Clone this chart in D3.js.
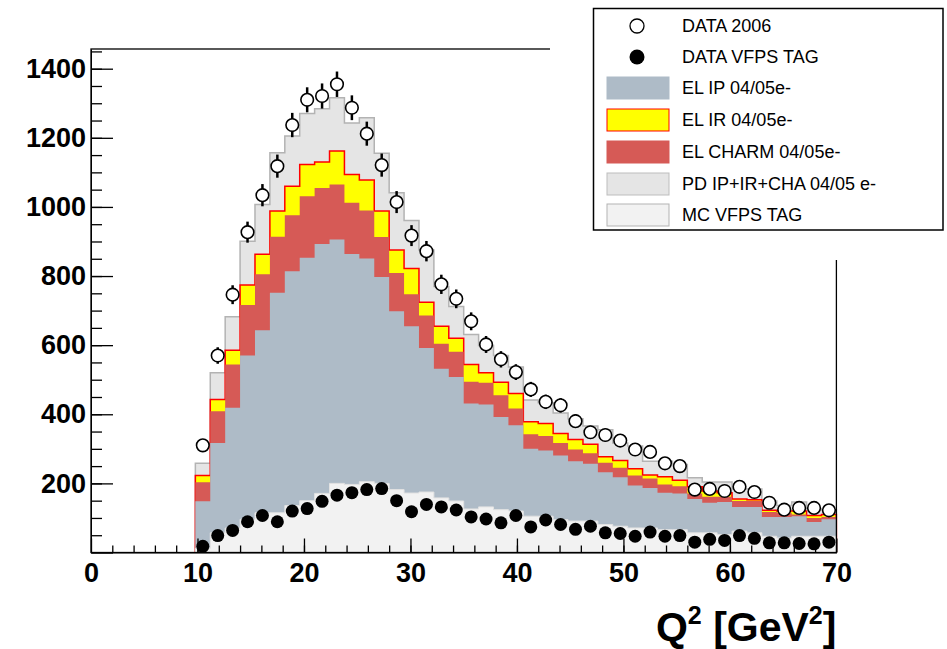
<!DOCTYPE html>
<html>
<head>
<meta charset="utf-8">
<script src="https://cdn.jsdelivr.net/npm/d3@7"></script>
<style>
  body { margin: 0; background: #fff; }
  text { font-family: "Liberation Sans", Arial, Helvetica, sans-serif; }
</style>
</head>
<body>
<svg id="chart" width="947" height="649"></svg>
<script>
// histogram binning: 50 bins over 0..70, filled from 9.8 upward
const binWidth = 1.4;
const firstBinLow = 9.8;

// cumulative stack tops per bin (events)
const pdTotal = [258, 520, 682, 901, 1007, 1157, 1205, 1270, 1284, 1316, 1243, 1258, 1155, 1041, 961,
  875, 770, 712, 631, 599, 570, 537, 441, 433, 404, 387, 366, 355, 317, 308, 264, 264, 255, 216,
  204, 204, 184, 184, 149, 136, 146, 126, 124];
const elIR = [223, 443, 585, 774, 863, 988, 1060, 1123, 1130, 1162, 1094, 1078, 988, 875, 822,
  724, 655, 620, 544, 520, 493, 460, 378, 373, 344, 327, 313, 277, 266, 242, 224, 219, 209, 190,
  178, 173, 155, 153, 122, 120, 120, 107, 110];
const elCharm = [203, 409, 544, 716, 805, 914, 976, 1031, 1055, 1065, 1012, 990, 913, 809, 747,
  686, 604, 581, 494, 491, 455, 417, 342, 337, 317, 298, 287, 260, 245, 223, 214, 197, 192, 171,
  161, 161, 149, 149, 117, 115, 110, 100, 103];
const elIP = [148, 317, 419, 570, 643, 752, 814, 853, 893, 906, 864, 851, 797, 698, 655,
  592, 532, 508, 431, 428, 392, 368, 300, 295, 281, 264, 257, 232, 218, 194, 187, 173, 171, 155,
  144, 146, 132, 132, 103, 103, 105, 88, 96];
const mcVfps = [12, 57, 71, 96, 115, 115, 136, 150, 171, 200, 197, 205, 200, 182, 172,
  175, 158, 149, 126, 132, 124, 120, 105, 105, 95, 91, 91, 81, 76, 71, 71, 66, 66, 57,
  57, 52, 62, 57, 47, 42, 47, 47, 47];

// measured data
const data2006 = [310, 570, 746, 927, 1034, 1118, 1237, 1310, 1321, 1355, 1287, 1212, 1121, 1014, 917,
  872, 776, 734, 669, 602, 559, 522, 472, 436, 426, 380, 348, 340, 324, 298, 291, 258, 250, 182,
  184, 178, 190, 175, 144, 124, 129, 129, 122];
const dataVfps = [18, 49, 64, 89, 107, 89, 120, 127, 148, 166, 173, 182, 185, 150, 118,
  139, 132, 123, 103, 97, 86, 107, 74, 94, 81, 67, 76, 57, 55, 47, 59, 47, 49, 30,
  38, 35, 49, 41, 28, 28, 26, 25, 30];

const legendLabels = ["DATA 2006", "DATA VFPS TAG", "EL IP 04/05e-", "EL IR 04/05e-",
  "EL CHARM 04/05e-", "PD IP+IR+CHA 04/05 e-", "MC VFPS TAG"];

const svg = d3.select("#chart");
const plotL = 91, plotR = 836.4, plotT = 49, plotB = 552.5;

const x = d3.scaleLinear().domain([0, 70]).range([plotL, plotR]);
const y = d3.scaleLinear().domain([0, 1457]).range([plotB, plotT]);

const lows = pdTotal.map((d, i) => firstBinLow + i * binWidth);
const lastHigh = firstBinLow + pdTotal.length * binWidth;

function stepPoints(vals) {
  const pts = [[lows[0], 0]];
  vals.forEach((v, i) => pts.push([lows[i], v]));
  pts.push([lastHigh, vals[vals.length - 1]]);
  pts.push([lastHigh, 0]);
  return pts;
}
const area = d3.area()
  .x(d => x(d[0])).y0(y(0)).y1(d => y(d[1]))
  .curve(d3.curveStepAfter);
const line = d3.line()
  .x(d => x(d[0])).y(d => y(d[1]))
  .curve(d3.curveStepAfter);

function drawHist(vals, fill, stroke, sw) {
  const pts = stepPoints(vals);
  svg.append("path").attr("d", area(pts)).attr("fill", fill);
  if (stroke) {
    svg.append("path").attr("d", line(pts)).attr("fill", "none")
      .attr("stroke", stroke).attr("stroke-width", sw);
  }
}

const colPD = "#e5e5e5", colIR = "#ffff00", colCharm = "#d65a56",
  colIP = "#aebbc7", colMC = "#f2f2f2";

drawHist(pdTotal, colPD, "#b3b3b3", 1.5);
drawHist(elIR, colIR, "#ff0000", 1.5);
drawHist(elCharm, colCharm, null);
drawHist(elIP, colIP, null);
drawHist(mcVfps, colMC, "#e2e2e2", 1);

// data points
const centers = lows.map(l => l + binWidth / 2);
svg.append("g").selectAll("line").data(data2006).join("line")
  .attr("x1", (d, i) => x(centers[i])).attr("x2", (d, i) => x(centers[i]))
  .attr("y1", d => y(d - Math.sqrt(d))).attr("y2", d => y(d + Math.sqrt(d)))
  .attr("stroke", "#000").attr("stroke-width", 2.5);
svg.append("g").selectAll("circle").data(data2006).join("circle")
  .attr("cx", (d, i) => x(centers[i])).attr("cy", d => y(d))
  .attr("r", 6.3).attr("fill", "#fff").attr("stroke", "#000").attr("stroke-width", 1.6);
svg.append("g").selectAll("circle").data(dataVfps).join("circle")
  .attr("cx", (d, i) => x(centers[i])).attr("cy", d => y(d))
  .attr("r", 6.5).attr("fill", "#000");

// axes
const fontAxis = "bold 27px 'Liberation Sans', Arial, sans-serif";
const yAxis = svg.append("g").attr("transform", `translate(${plotL},0)`)
  .call(d3.axisLeft(y).tickValues(d3.range(0, 1401, 200)).tickSizeInner(-22).tickSizeOuter(0).tickPadding(5)
    .tickFormat(d => d === 0 ? "" : d));
yAxis.selectAll("text").style("font", fontAxis).attr("fill", "#000");
yAxis.selectAll("line").attr("stroke-width", 1.3);
svg.append("g").attr("transform", `translate(${plotL},0)`)
  .call(d3.axisLeft(y).tickValues(d3.range(50, 1457, 50)).tickSizeInner(-11).tickSizeOuter(0).tickFormat(""))
  .call(g => g.select(".domain").remove())
  .selectAll("line").attr("stroke-width", 1.3);

const xAxis = svg.append("g").attr("transform", `translate(0,${plotB})`)
  .call(d3.axisBottom(x).tickValues(d3.range(0, 71, 10)).tickSizeInner(-14).tickSizeOuter(0).tickPadding(10));
xAxis.selectAll("text").style("font", fontAxis).attr("fill", "#000");
xAxis.selectAll("line").attr("stroke-width", 1.3);
svg.append("g").attr("transform", `translate(0,${plotB})`)
  .call(d3.axisBottom(x).tickValues(d3.range(2, 70, 2)).tickSizeInner(-7).tickSizeOuter(0).tickFormat(""))
  .call(g => g.select(".domain").remove())
  .selectAll("line").attr("stroke-width", 1.3);

// frame
svg.append("rect").attr("x", plotL).attr("y", plotT).attr("width", plotR - plotL).attr("height", plotB - plotT)
  .attr("fill", "none").attr("stroke", "#000").attr("stroke-width", 1.3);

// legend pad
svg.append("rect").attr("x", 550).attr("y", 0).attr("width", 397).attr("height", 260).attr("fill", "#fff");
const lg = svg.append("g");
lg.append("rect").attr("x", 593.5).attr("y", 8.5).attr("width", 349.5).attr("height", 221.5)
  .attr("fill", "#fff").attr("stroke", "#000").attr("stroke-width", 1.5);
const rowY = [26, 57, 88, 120, 152, 184, 215];
lg.append("circle").attr("cx", 637).attr("cy", rowY[0]).attr("r", 7)
  .attr("fill", "#fff").attr("stroke", "#000").attr("stroke-width", 1.3);
lg.append("circle").attr("cx", 637).attr("cy", rowY[1]).attr("r", 7.5).attr("fill", "#000");
const boxes = [[colIP, colIP], [colIR, "#ff0000"], [colCharm, colCharm], [colPD, "#bdbdbd"], [colMC, "#b3b3b3"]];
boxes.forEach((b, i) => {
  lg.append("rect").attr("x", 607).attr("y", rowY[i + 2] - 11).attr("width", 62).attr("height", 22)
    .attr("fill", b[0]).attr("stroke", b[1]).attr("stroke-width", 1);
});
lg.selectAll("text.lab").data(legendLabels).join("text").attr("class", "lab")
  .attr("x", 682).attr("y", (d, i) => rowY[i]).attr("dy", "0.36em")
  .style("font-size", "18px").attr("fill", "#000").text(d => d);

// x title
const title = svg.append("text").attr("x", plotR).attr("y", 641).attr("text-anchor", "end")
  .style("font", "bold 41px 'Liberation Sans', Arial, sans-serif").attr("fill", "#000");
title.append("tspan").text("Q");
title.append("tspan").attr("dy", -17).style("font-size", "25px").text("2");
title.append("tspan").attr("dy", 17).text(" [GeV");
title.append("tspan").attr("dy", -17).style("font-size", "25px").text("2");
title.append("tspan").attr("dy", 17).text("]");
</script>
</body>
</html>
